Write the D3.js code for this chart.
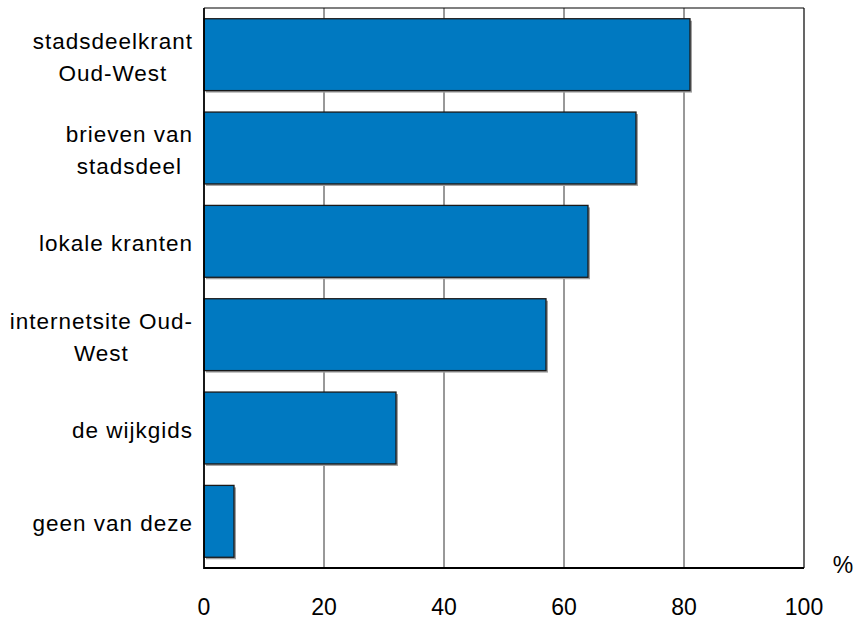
<!DOCTYPE html>
<html>
<head>
<meta charset="utf-8">
<script src="https://cdn.jsdelivr.net/npm/d3@7"></script>
<style>
  html, body { margin: 0; padding: 0; background: #fff; }
  text { font-family: "Liberation Sans", Arial, sans-serif; fill: #000; }
</style>
</head>
<body>
<svg id="chart" width="856" height="619"></svg>
<script>
const categories = [
  ["stadsdeelkrant", "Oud-West"],
  ["brieven van", "stadsdeel"],
  ["lokale kranten"],
  ["internetsite Oud-", "West"],
  ["de wijkgids"],
  ["geen van deze"]
];
const values = [81, 72, 64, 57, 32, 5];
const xTicks = [0, 20, 40, 60, 80, 100];
const unitLabel = "%";

(function () {
const svg = d3.select("#chart");
const pLeft = 204, pRight = 804, pTop = 8, pBottom = 568;

const x = d3.scaleLinear().domain([0, 100]).range([pLeft, pRight]);
const keys = categories.map(c => c.join(" "));
const y = d3.scaleBand().domain(keys).range([pTop, pBottom]).paddingInner(0.23).paddingOuter(0.115);

// gridlines
svg.append("g").selectAll("line").data(xTicks.slice(1, -1)).join("line")
  .attr("x1", d => x(d)).attr("x2", d => x(d))
  .attr("y1", pTop).attr("y2", pBottom)
  .attr("stroke", "#333").attr("stroke-width", 1);

// bar shadows
svg.append("g").selectAll("rect").data(values).join("rect")
  .attr("x", x(0) + 2)
  .attr("y", (d, i) => y(keys[i]) + 2)
  .attr("width", d => x(d) - x(0))
  .attr("height", y.bandwidth())
  .attr("fill", "#a0a0a0");

// bars
svg.append("g").selectAll("rect").data(values).join("rect")
  .attr("x", x(0))
  .attr("y", (d, i) => y(keys[i]))
  .attr("width", d => x(d) - x(0))
  .attr("height", y.bandwidth())
  .attr("fill", "#0079c1")
  .attr("stroke", "#1a1a1a").attr("stroke-width", 1.3);

// frame
svg.append("line").attr("x1", pLeft).attr("x2", pRight).attr("y1", pTop).attr("y2", pTop).attr("stroke", "#000").attr("stroke-width", 1.2);
svg.append("line").attr("x1", pRight).attr("x2", pRight).attr("y1", pTop).attr("y2", pBottom).attr("stroke", "#000").attr("stroke-width", 1.2);
svg.append("line").attr("x1", pLeft).attr("x2", pLeft).attr("y1", pTop).attr("y2", pBottom + 1).attr("stroke", "#000").attr("stroke-width", 1.8);
svg.append("line").attr("x1", pLeft).attr("x2", pRight).attr("y1", pBottom).attr("y2", pBottom).attr("stroke", "#000").attr("stroke-width", 1.8);

// x tick labels
svg.append("g").selectAll("text").data(xTicks).join("text")
  .attr("x", d => x(d)).attr("y", 615)
  .attr("text-anchor", "middle")
  .style("font-size", "23px")
  .text(d => d);

svg.append("text").attr("x", 843).attr("y", 573)
  .attr("text-anchor", "middle").style("font-size", "23px").text(unitLabel);

// category labels: lines centered within block, block right-aligned at 193
const labelRight = 193;
const lineH = 32;
categories.forEach((lines, i) => {
  const cy = y(keys[i]) + y.bandwidth() / 2;
  const g = svg.append("g");
  const texts = lines.map((ln, j) => g.append("text")
    .style("font-size", "22.5px").style("letter-spacing", "1px")
    .attr("text-anchor", "middle")
    .attr("y", cy + (j - (lines.length - 1) / 2) * lineH + 10)
    .text(ln));
  const widths = texts.map(t => t.node().getComputedTextLength());
  const maxW = d3.max(widths);
  texts.forEach(t => t.attr("x", labelRight - maxW / 2));
});
})();
</script>
</body>
</html>
